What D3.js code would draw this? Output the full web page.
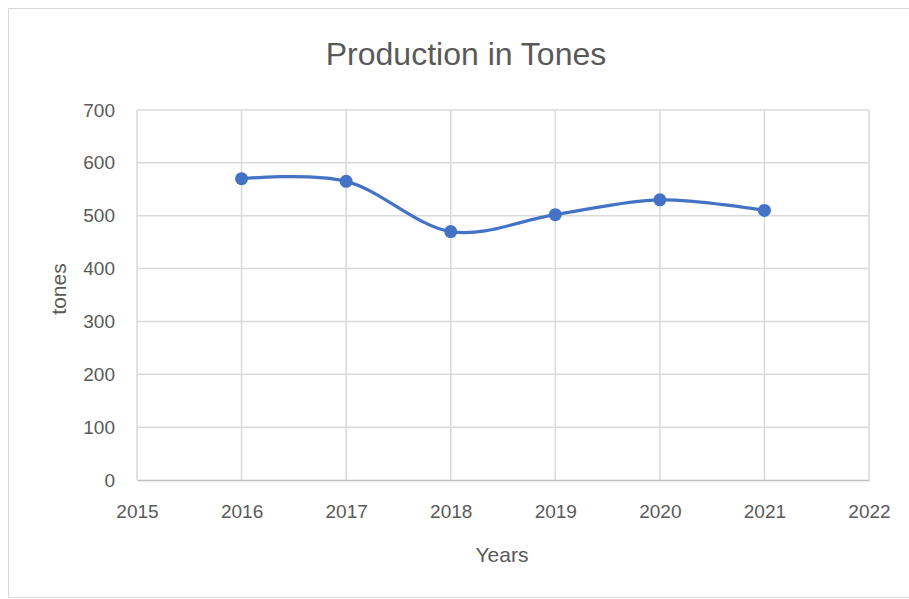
<!DOCTYPE html>
<html>
<head>
<meta charset="utf-8">
<script src="https://cdn.jsdelivr.net/npm/d3@7"></script>
<style>
  html, body { margin: 0; padding: 0; background: #fff; }
  svg { display: block; }
  text { font-family: "Liberation Sans", sans-serif; fill: #595959; }
</style>
</head>
<body>
<svg id="chart" width="909" height="599"></svg>
<script>
const title = "Production in Tones";
const years = [2016, 2017, 2018, 2019, 2020, 2021];
const production = [570, 565, 470, 502, 530, 510];
const xTicks = [2015, 2016, 2017, 2018, 2019, 2020, 2021, 2022];
const yTicks = [0, 100, 200, 300, 400, 500, 600, 700];
const xLabel = "Years";
const yLabel = "tones";

const svg = d3.select("#chart");
const W = 909, H = 599;
const m = { left: 137, right: 869, top: 110, bottom: 480 };

svg.append("rect").attr("x", 8.5).attr("y", 8.5).attr("width", W + 10).attr("height", H - 10)
  .attr("fill", "#fff").attr("stroke", "#d9d9d9").attr("stroke-width", 1);

const x = d3.scaleLinear().domain([2015, 2022]).range([m.left, m.right]);
const y = d3.scaleLinear().domain([0, 700]).range([m.bottom, m.top]);

// gridlines
const grid = svg.append("g");
grid.selectAll("line.h").data(yTicks.filter(d => d > 0)).join("line")
  .attr("x1", m.left).attr("x2", m.right)
  .attr("y1", d => y(d)).attr("y2", d => y(d))
  .attr("stroke", "#d9d9d9").attr("stroke-width", 1.5);
grid.selectAll("line.v").data(xTicks).join("line")
  .attr("y1", m.top).attr("y2", m.bottom)
  .attr("x1", d => x(d)).attr("x2", d => x(d))
  .attr("stroke", "#d9d9d9").attr("stroke-width", 1.5);

// x axis
const xAxis = svg.append("g").attr("transform", `translate(0,${m.bottom})`)
  .call(d3.axisBottom(x).tickValues(xTicks).tickFormat(d3.format("d")).tickSize(0).tickPadding(25));
xAxis.select(".domain").attr("stroke", "#bfbfbf").attr("stroke-width", 1.5);
xAxis.selectAll("text").attr("font-size", 19).style("fill", "#595959")
  .style("font-family", '"Liberation Sans", sans-serif');

// y axis
const yAxis = svg.append("g").attr("transform", `translate(${m.left},0)`)
  .call(d3.axisLeft(y).tickValues(yTicks).tickSize(0).tickPadding(22));
yAxis.select(".domain").remove();
yAxis.selectAll("text").attr("font-size", 19).style("fill", "#595959")
  .style("font-family", '"Liberation Sans", sans-serif');

// line
const data = years.map((yr, i) => ({ yr, v: production[i] }));
const line = d3.line().x(d => x(d.yr)).y(d => y(d.v)).curve(d3.curveCatmullRom.alpha(0));
svg.append("path").datum(data).attr("d", line)
  .attr("fill", "none").attr("stroke", "#4472C4").attr("stroke-width", 3.25);
svg.selectAll("circle.pt").data(data).join("circle")
  .attr("cx", d => x(d.yr)).attr("cy", d => y(d.v)).attr("r", 6.5)
  .attr("fill", "#4472C4");

// title & labels
svg.append("text").attr("x", 466).attr("y", 65).attr("text-anchor", "middle")
  .attr("font-size", 32).text(title);
svg.append("text").attr("x", 502).attr("y", 562).attr("text-anchor", "middle")
  .attr("font-size", 21).text(xLabel);
svg.append("text").attr("transform", "translate(66,289) rotate(-90)").attr("text-anchor", "middle")
  .attr("font-size", 21).text(yLabel);
</script>
</body>
</html>
